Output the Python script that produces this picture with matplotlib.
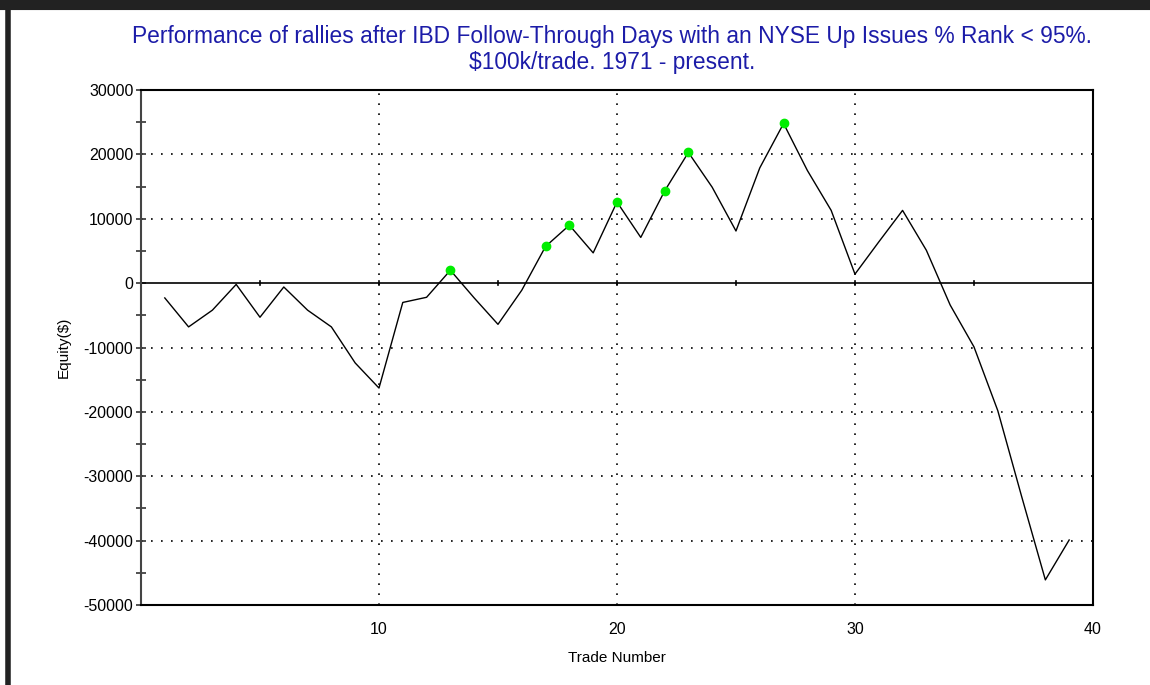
import matplotlib.pyplot as plt
from matplotlib.lines import Line2D
from matplotlib.ticker import MultipleLocator

# equity curve
trade_no = list(range(1, 40))
equity = [-2300, -6800, -4200, -200, -5300, -600, -4200, -6800, -12400, -16300,
          -3000, -2200, 2000, -2300, -6400, -1100, 5700, 9000, 4700, 12600,
          7100, 14300, 20300, 14900, 8100, 17900, 24800, 17500, 11300, 1400,
          6400, 11300, 5100, -3400, -9900, -19800, -33100, -46100, -39900]

# trades that set a new equity high
high_trades = [13, 17, 18, 20, 22, 23, 27]

title = ("Performance of rallies after IBD Follow-Through Days with an NYSE Up Issues % Rank < 95%.\n"
         "$100k/trade. 1971 - present.")

plt.rcParams['font.family'] = ['Liberation Sans', 'DejaVu Sans']
plt.rcParams['axes.unicode_minus'] = False

fig = plt.figure(figsize=(11.5, 6.85), dpi=100)
ax = fig.add_axes([0.1226, 0.1168, 0.8278, 0.7518])

ax.plot(trade_no, equity, color='black', lw=1.0, zorder=3)
hi_y = [equity[trade_no.index(t)] for t in high_trades]
ax.plot(high_trades, hi_y, 'o', color='#00ee00', ms=6, mec='#00ee00', zorder=4)

ax.set_xlim(0, 40)
ax.set_ylim(-50000, 30000)
ax.yaxis.set_major_locator(MultipleLocator(10000))
ax.yaxis.set_minor_locator(MultipleLocator(5000))
ax.set_xticks([10, 20, 30, 40])

# dotted grid, solid zero line
for y in range(-40000, 30000, 10000):
    if y != 0:
        ax.axhline(y, color='black', lw=1.2, ls=(0, (1, 5)), zorder=1)
for x in [10, 20, 30]:
    ax.axvline(x, color='black', lw=1.2, ls=(0, (1, 5)), zorder=1)
ax.axhline(0, color='black', lw=1.2, zorder=2)
# small ticks on the zero line
for x in range(5, 40, 5):
    ax.plot([x, x], [-350, 350], color='black', lw=1.2, zorder=2)

ax.tick_params(axis='y', which='both', direction='inout', length=7, width=1.2,
               labelsize=11.5, pad=2, colors='#333333')
ax.tick_params(axis='y', labelcolor='black')
ax.tick_params(axis='x', length=0, labelsize=11.5, pad=12)
for s in ['top', 'right', 'bottom']:
    ax.spines[s].set_linewidth(1.5)
    ax.spines[s].set_color('black')
ax.spines['left'].set_linewidth(1.5)
ax.spines['left'].set_color('#444444')

ax.set_xlabel('Trade Number', fontsize=11)
ax.set_ylabel('Equity($)', fontsize=11)
ax.xaxis.set_label_coords(0.5, -0.09)
ax.yaxis.set_label_coords(-0.074, 0.5)

fig.text(0.532, 0.928, title, ha='center', va='center', fontsize=16.4,
         color='#1c1ca8', linespacing=1.2)

# dark frame at top and left like the screenshot
fig.add_artist(Line2D([0, 1], [0.994, 0.994], transform=fig.transFigure,
                      color='#222222', lw=8))
fig.add_artist(Line2D([0.007, 0.007], [0, 1], transform=fig.transFigure,
                      color='#222222', lw=4))

fig.savefig('out.png', dpi=100)
